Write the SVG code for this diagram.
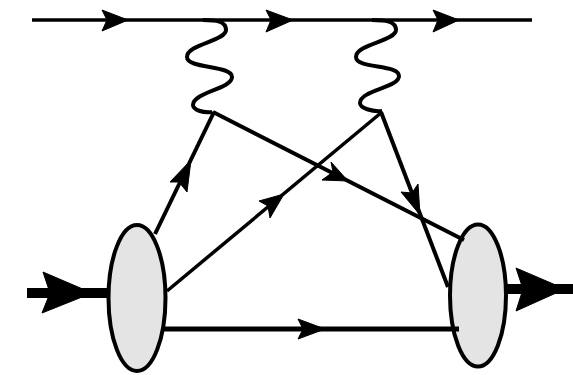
<svg xmlns="http://www.w3.org/2000/svg" width="573" height="375" viewBox="0 0 573 375">
<style>
.l{fill:none;stroke:#000;stroke-linecap:butt;stroke-linejoin:round}
.h{fill:#000;stroke:#000;stroke-width:1;stroke-linejoin:round}
.b{fill:#e4e4e4;stroke:#000;stroke-width:4}
</style>
<rect width="573" height="375" fill="#fff"/>
<g id="left-blob"><ellipse class="b" cx="137" cy="298" rx="28.5" ry="73"/></g>
<g id="right-blob"><ellipse class="b" cx="478" cy="295.500" rx="28" ry="71"/></g>
<g id="connectors">
<path class="l" stroke-width="3.500" d="M32 20H532"/>
<path class="l" stroke-width="4" d="M203 20C216 20 226 21 226 30C226 41 187 44 187 57C187 69 232 65 232 77C232 89 193 92 193 105C193 110 203 113 212 112"/>
<path class="l" stroke-width="4" d="M372 20C385 20 396 21 396 30C396 41 356 44 356 57C356 69 399 64 399 76C399 88 360 90 360 103C360 108 372 112 382 111"/>
<path class="l" stroke-width="4" d="M155 234L214 112"/>
<path class="l" stroke-width="4" d="M213 112L464 240"/>
<path class="l" stroke-width="3.500" d="M167 291L382 112"/>
<path class="l" stroke-width="4" d="M381 112L448 287"/>
<path class="l" stroke-width="5" d="M163 329H459"/>
<path class="l" stroke-width="10" d="M27 293H108"/>
<path class="l" stroke-width="10" d="M507 289H573"/>
<polygon class="h" points="128,20 102,10 107,20 102,31"/>
<polygon class="h" points="293,20 266,10 271,20 266,32"/>
<polygon class="h" points="459,20 433,10 438,20 433,32"/>
<polygon class="h" points="191,160 170,182 179,182 187,192"/>
<polygon class="h" points="284,194 259,201 268,206 270,218"/>
<polygon class="h" points="348,181 331,162 333,172 322,180"/>
<polygon class="h" points="420,215 401,192 412,193 418,184"/>
<polygon class="h" points="325,329 298,319 303,329 298,339"/>
<polygon class="h" points="92,293 43,272 50,293 42,313"/>
<polygon class="h" points="565,289 516,268 523,289 516,311"/>
</g>
</svg>
